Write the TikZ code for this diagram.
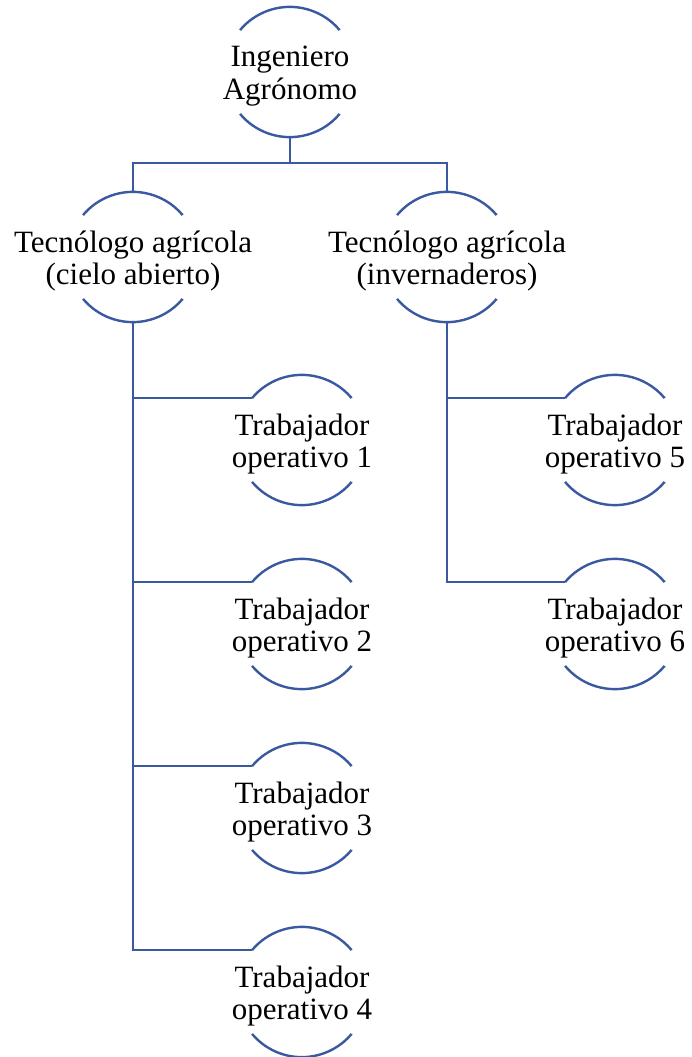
\documentclass[tikz,border=0pt]{standalone}
\usepackage{fontspec}
\setmainfont{Liberation Serif}
\definecolor{azul}{RGB}{59,89,160}
\tikzset{
    linea/.style={draw=azul,line width=2.4pt},
    circulo/.style={circle,minimum size=130pt,inner sep=0pt},
    texto/.style={align=center,inner sep=0pt,yshift=-4pt,font=\fontsize{31}{32.5}\selectfont}
}
\begin{document}
\begin{tikzpicture}[x=1pt,y=1pt]
        \useasboundingbox(0,0)rectangle(691,-1057);
        % nodos
        \node[circulo,label={[texto]center:Ingeniero\\Agrónomo}](ing)at(290,-72){};
        \node[circulo,label={[texto]center:Tecnólogo agrícola\\(cielo abierto)}](tca)at(133,-257){};
        \node[circulo,label={[texto]center:Tecnólogo agrícola\\(invernaderos)}](tci)at(447,-257){};
        \foreach \i/\y in {1/-440,2/-624,3/-808,4/-992}
            \node[circulo,label={[texto]center:Trabajador\\operativo \i}](t\i)at(302,\y){};
        \foreach \i/\y in {5/-440,6/-624}
            \node[circulo,label={[texto]center:Trabajador\\operativo \i}](t\i)at(615,\y){};
        % arcos
        \foreach \n in {ing,tca,tci,t1,t2,t3,t4,t5,t6}
            {
                \draw[linea](\n.140)arc[start angle=140,end angle=40,radius=65pt];
                \draw[linea](\n.220)arc[start angle=220,end angle=320,radius=65pt];
            }
        % conectores
        \draw[linea](ing.south)--++(0,-26)coordinate(bus)-|(tca.north);
        \draw[linea](bus)-|(tci.north);
        \foreach \n in {t1,t2,t3,t4}
            \draw[linea](tca.south)|-(\n.140);
        \foreach \n in {t5,t6}
            \draw[linea](tci.south)|-(\n.140);
    \end{tikzpicture}
\end{document}
